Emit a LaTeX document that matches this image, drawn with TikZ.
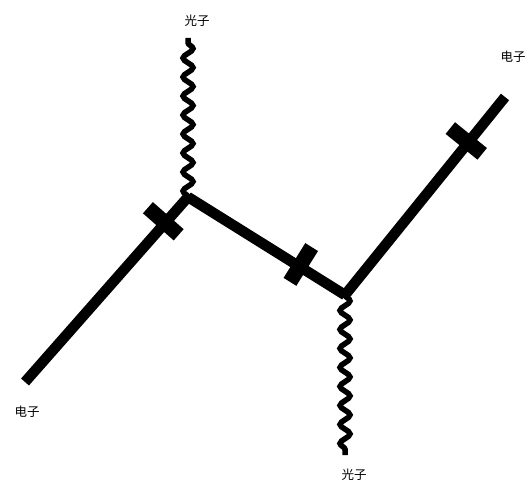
\documentclass[tikz,border=0pt]{standalone}
\usepackage{fontspec}
\newfontfamily\cjk{Noto Sans CJK SC}
\usetikzlibrary{decorations.pathmorphing,decorations.markings}
\begin{document}
\begin{tikzpicture}[x=1pt,y=-1pt,
  electron/.style={line width=10.5pt,
    postaction={decorate,decoration={markings,
      mark=at position #1 with {\fill (-7.5pt,-18pt) -- (7.5pt,-18pt) -- (7.5pt,23pt) -- (-7.5pt,23pt) -- cycle;}}}},
  photon/.style={line width=5.5pt,decorate,
    decoration={snake,amplitude=5pt,segment length=19pt}},
  lbl/.style={font=\cjk\fontsize{12.5pt}{14pt}\selectfont,inner sep=0pt}]
\useasboundingbox (0,0) rectangle (532,489);
\coordinate (e1) at (25,382);
\coordinate (v1) at (188,197);
\coordinate (v2) at (345,295);
\coordinate (e2) at (505,97);
\coordinate (p1) at (188,38);
\coordinate (p2) at (345,455);
\draw[photon] (v1) -- (p1);
\draw[photon] (v2) -- (p2);
\draw[electron=0.86] (e1) -- (v1);
\draw[electron=0.71] (v1) -- (v2);
\draw[electron=0.77] (v2) -- (e2);
\node[lbl] (l1) at (197,21) {光子};
\node[lbl] (l2) at (513,57) {电子};
\node[lbl] (l3) at (27,412) {电子};
\node[lbl] (l4) at (354,475) {光子};
\end{tikzpicture}
\end{document}
